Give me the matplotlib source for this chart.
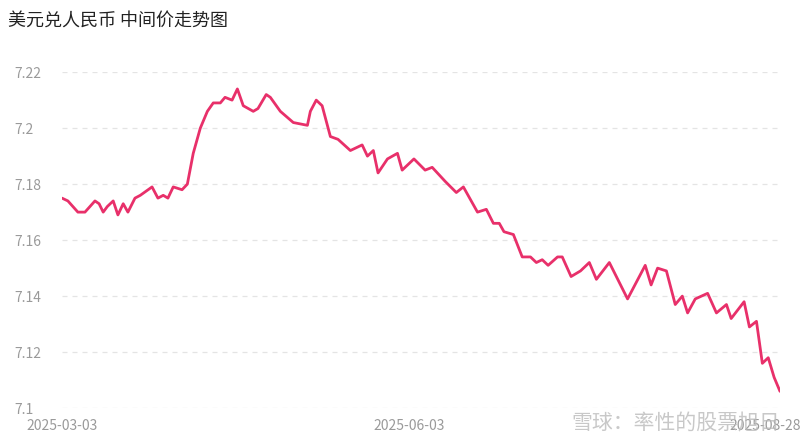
import matplotlib
matplotlib.use('Agg')
from matplotlib import pyplot as plt
from matplotlib.transforms import ScaledTranslation

plt.rcParams['font.family'] = ['Noto Sans CJK SC', 'DejaVu Sans']

# trading-day index since 2025-03-03, and USD/CNY central parity
tday = [0.0, 1.0, 2.7, 3.9, 5.6, 6.3, 7.0, 7.7, 8.7, 9.5, 10.4, 11.2, 12.4, 13.3,
        15.3, 16.3, 17.2, 18.0, 18.9, 20.4, 21.3, 22.3, 23.5, 24.7, 25.7, 26.9,
        27.7, 28.9, 29.8, 30.8, 32.5, 33.3, 34.7, 35.4, 37.1, 39.3, 41.7, 42.2,
        43.2, 44.2, 45.6, 46.9, 49.0, 51.0, 51.9, 52.9, 53.7, 55.3, 57.0, 57.8,
        59.8, 61.7, 62.9, 65.1, 67.0, 68.2, 70.6, 72.1, 73.3, 74.3, 75.1, 76.7,
        78.2, 79.6, 80.6, 81.6, 82.6, 84.2, 85.0, 86.5, 88.1, 89.6, 90.8, 93.0,
        96.1, 99.1, 100.1, 101.2, 102.7, 104.2, 105.4, 106.3, 107.6, 109.7,
        111.2, 112.9, 113.7, 115.9, 116.8, 118.0, 119.0, 120.0, 121.0, 122.0]
rate = [7.175, 7.174, 7.170, 7.170, 7.174, 7.173, 7.170, 7.172, 7.174, 7.169,
        7.173, 7.170, 7.175, 7.176, 7.179, 7.175, 7.176, 7.175, 7.179, 7.178,
        7.180, 7.191, 7.200, 7.206, 7.209, 7.209, 7.211, 7.210, 7.214, 7.208,
        7.206, 7.207, 7.212, 7.211, 7.206, 7.202, 7.201, 7.206, 7.210, 7.208,
        7.197, 7.196, 7.192, 7.194, 7.190, 7.192, 7.184, 7.189, 7.191, 7.185,
        7.189, 7.185, 7.186, 7.181, 7.177, 7.179, 7.170, 7.171, 7.166, 7.166,
        7.163, 7.162, 7.154, 7.154, 7.152, 7.153, 7.151, 7.154, 7.154, 7.147,
        7.149, 7.152, 7.146, 7.152, 7.139, 7.151, 7.144, 7.150, 7.149, 7.137,
        7.140, 7.134, 7.139, 7.141, 7.134, 7.137, 7.132, 7.138, 7.129, 7.131,
        7.116, 7.118, 7.111, 7.106]

xtick_pos = [0, 59, 122]
xtick_labels = ['2025-03-03', '2025-06-03', '2025-08-28']
ytick_vals = [7.1, 7.12, 7.14, 7.16, 7.18, 7.2, 7.22]
ytick_labels = ['7.1', '7.12', '7.14', '7.16', '7.18', '7.2', '7.22']

fig = plt.figure(figsize=(8, 4.48), dpi=100)
ax = fig.add_axes([0.0775, 0.089, 0.8975, 0.75])

ax.plot(tday, rate, color='#e8306a', lw=2, solid_joinstyle='round',
        solid_capstyle='round')

ax.set_xlim(0, 122)
ax.set_ylim(7.1, 7.22)
ax.set_yticks(ytick_vals)
ax.set_yticklabels(ytick_labels)
ax.set_xticks(xtick_pos)
ax.set_xticklabels(xtick_labels)
ax.grid(axis='y', linestyle=(0, (4, 4)), color='#e4e4e4', lw=0.9)
for s in ax.spines.values():
    s.set_visible(False)
ax.tick_params(length=0, colors='#9a9a9a', labelsize=10)
ax.tick_params(axis='y', pad=34)
for lbl in ax.get_yticklabels():
    lbl.set_horizontalalignment('left')
ax.tick_params(axis='x', pad=8)
# last date label pulled in so it stays inside the picture
last = ax.get_xticklabels()[-1]
last.set_transform(last.get_transform() + ScaledTranslation(-0.15, 0, fig.dpi_scale_trans))

fig.text(0.01, 0.955, '美元兑人民币 中间价走势图', fontsize=13, color='#222222',
         va='center', ha='left')
fig.text(0.975, 0.055, '雪球：率性的股票旭日', fontsize=15, color='#bbbbbb',
         alpha=0.8, ha='right', va='center', zorder=5)

fig.savefig('out.png', dpi=100)
